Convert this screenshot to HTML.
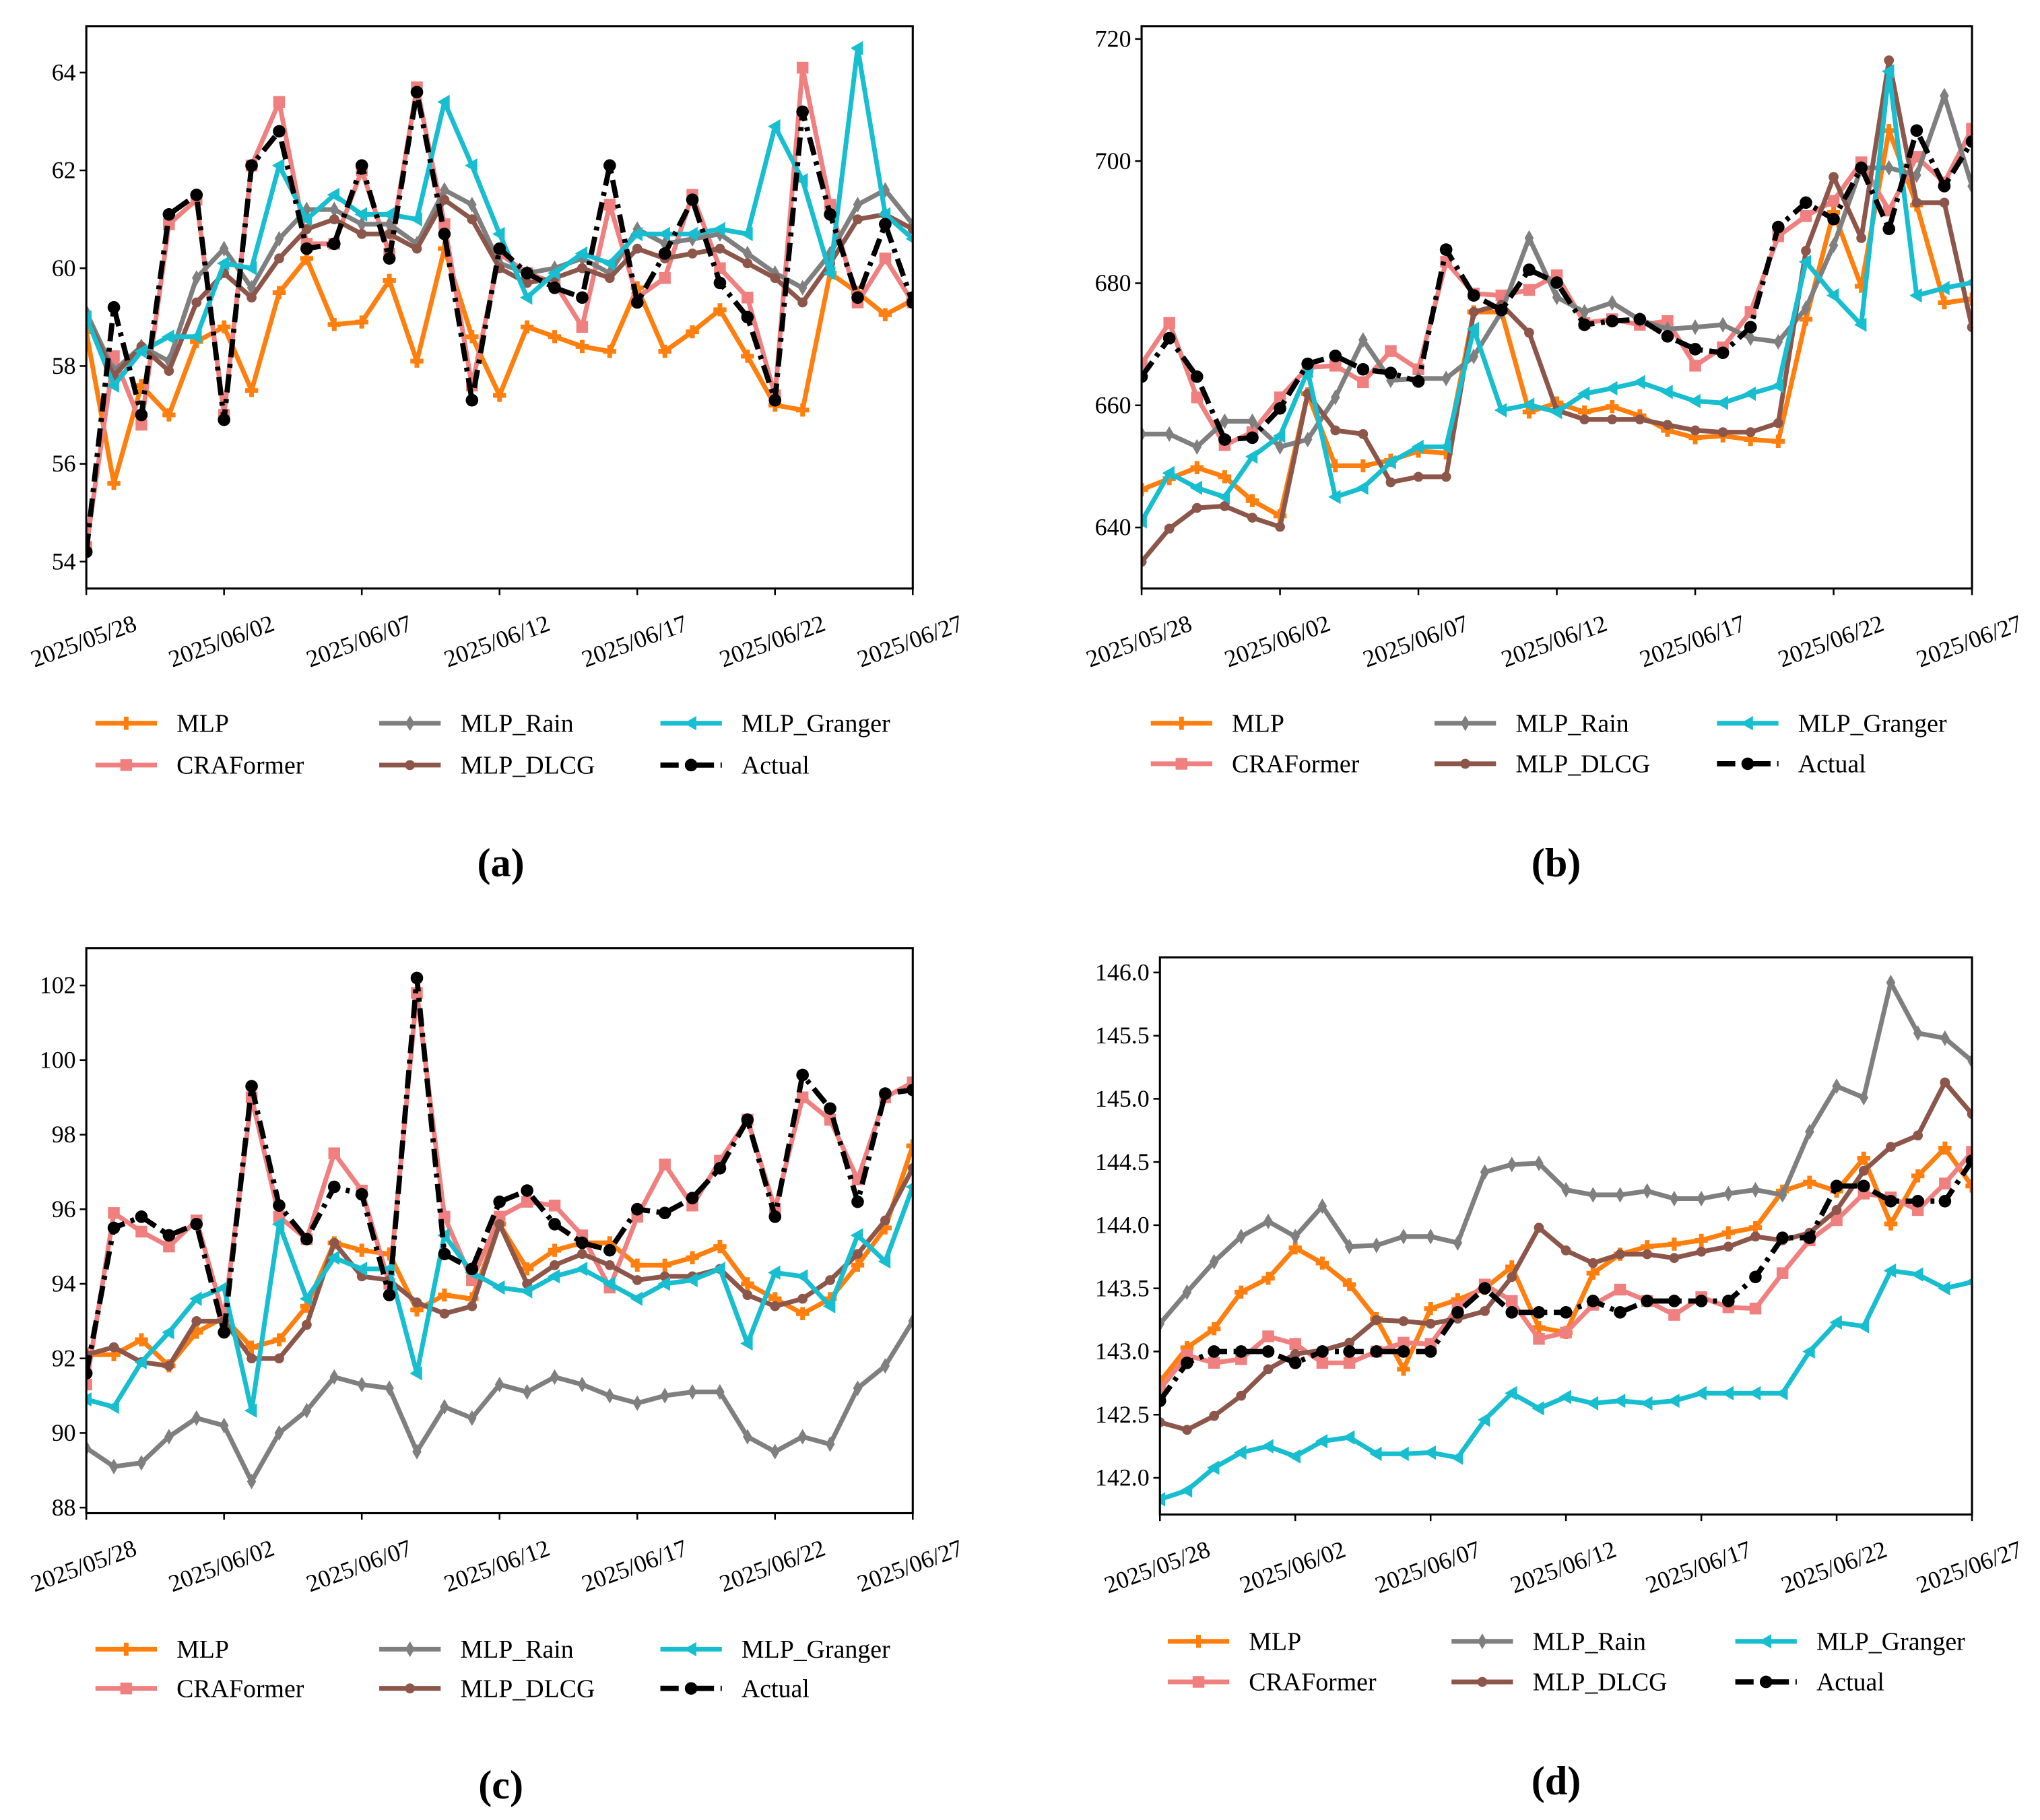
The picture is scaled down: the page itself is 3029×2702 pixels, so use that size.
<!DOCTYPE html>
<html><head><meta charset="utf-8"><style>
html,body{margin:0;padding:0;background:#fff}
svg{display:block}
text{font-family:"Liberation Serif","DejaVu Serif",serif;fill:#000}
</style></head><body>
<svg id="fig" width="3029" height="2702" viewBox="0 0 1560 1391.6" preserveAspectRatio="none" xmlns="http://www.w3.org/2000/svg"></svg>
<script>
const dateLabels = ["2025/05/28","2025/06/02","2025/06/07","2025/06/12","2025/06/17","2025/06/22","2025/06/27"];
const seriesNames = ["MLP","CRAFormer","MLP_Rain","MLP_DLCG","MLP_Granger","Actual"];

const aMLP = [58.7,55.6,57.6,57.0,58.5,58.8,57.5,59.5,60.2,58.85,58.9,59.75,58.1,60.4,58.6,57.4,58.8,58.6,58.4,58.3,59.6,58.3,58.7,59.15,58.2,57.2,57.1,59.9,59.5,59.05,59.35];
const aCRA = [54.3,58.2,56.8,60.9,61.4,57.0,62.1,63.4,60.5,60.5,62.0,60.3,63.7,60.9,57.6,60.3,59.9,59.7,58.8,61.3,59.4,59.8,61.5,60.0,59.4,57.4,64.1,61.3,59.3,60.2,59.3];
const aRain = [59.1,57.9,58.4,58.1,59.8,60.4,59.6,60.6,61.2,61.2,60.9,60.9,60.5,61.6,61.3,60.1,59.9,60.0,60.2,59.9,60.8,60.5,60.6,60.7,60.3,59.9,59.6,60.3,61.3,61.6,60.9];
const aDLCG = [59.0,57.8,58.4,57.9,59.3,59.9,59.4,60.2,60.8,61.0,60.7,60.7,60.4,61.4,61.0,60.0,59.7,59.8,60.0,59.8,60.4,60.2,60.3,60.4,60.1,59.8,59.3,60.1,61.0,61.1,60.8];
const aGranger = [59.0,57.6,58.3,58.6,58.6,60.1,60.0,62.1,61.0,61.5,61.1,61.1,61.0,63.4,62.1,60.7,59.4,59.9,60.3,60.1,60.7,60.7,60.7,60.8,60.7,62.9,61.8,59.9,64.5,61.1,60.6];
const aActual = [54.2,59.2,57.0,61.1,61.5,56.9,62.1,62.8,60.4,60.5,62.1,60.2,63.6,60.7,57.3,60.4,59.9,59.6,59.4,62.1,59.3,60.3,61.4,59.7,59.0,57.3,63.2,61.1,59.4,60.9,59.3];

const bMLP = [646.2,648,649.8,648.3,644.4,641.9,661.9,650.1,650.1,651,652.5,652.2,675.3,675.3,658.9,660.4,658.9,659.8,658.3,655.9,654.7,655,654.4,654.1,674.1,691.6,679.5,705,692.8,676.8,677.4];
const bCRA = [666.8,673.5,661.3,653.5,655.6,661.3,666.2,666.5,663.8,668.9,665.9,683.5,678.3,678,678.9,681.3,673.5,674.1,673.2,673.8,666.5,669.5,675.3,687.7,691,693.5,699.8,691.9,700.7,696.5,705.3];
const bRain = [655.3,655.3,653.2,657.4,657.4,653.2,654.4,661.3,670.7,664.1,664.4,664.4,668,675.3,687.4,677.7,675.3,676.8,674,672.5,672.8,673.2,671,670.4,675.9,686.2,698.9,698.9,697.7,710.7,695.9];
const bDLCG = [634.4,639.8,643.2,643.5,641.6,640.1,661.9,655.9,655.3,647.4,648.3,648.3,675.3,676.5,671.9,659.2,657.7,657.7,657.7,656.8,655.9,655.6,655.6,657.1,685.3,697.4,687.4,716.5,693.2,693.2,672.8];
const bGranger = [641,648.9,646.5,645,651.6,655,665.6,645,646.5,650.7,653.2,653.2,672.5,659.2,660.1,658.9,661.9,662.8,663.8,662.2,660.7,660.4,661.9,663.2,683.5,678,673.2,714.7,678,679.2,680.1];
const bActual = [664.7,671,664.7,654.4,654.7,659.5,666.8,668.1,665.9,665.3,663.9,685.5,678,675.6,682.2,680.1,673.2,673.8,674.1,671.3,669.2,668.6,672.8,689.2,693.2,690.5,698.9,688.9,705,695.9,703.2];

const cMLP = [92.1,92.1,92.5,91.8,92.7,93.1,92.3,92.5,93.4,95.1,94.9,94.8,93.3,93.7,93.6,95.6,94.4,94.9,95.1,95.1,94.5,94.5,94.7,95.0,94.0,93.6,93.2,93.6,94.5,95.5,97.7];
const cCRA = [91.3,95.9,95.4,95.0,95.7,93.1,99.0,95.8,95.2,97.5,96.5,94.0,101.8,95.8,94.1,95.8,96.2,96.1,95.3,93.9,95.8,97.2,96.1,97.3,98.4,96.0,99.0,98.4,96.8,99.0,99.4];
const cRain = [89.6,89.1,89.2,89.9,90.4,90.2,88.7,90.0,90.6,91.5,91.3,91.2,89.5,90.7,90.4,91.3,91.1,91.5,91.3,91.0,90.8,91.0,91.1,91.1,89.9,89.5,89.9,89.7,91.2,91.8,93.0];
const cDLCG = [92.1,92.3,91.9,91.8,93.0,93.0,92.0,92.0,92.9,95.1,94.2,94.1,93.5,93.2,93.4,95.6,94.0,94.5,94.8,94.5,94.1,94.2,94.2,94.4,93.7,93.4,93.6,94.1,94.8,95.7,97.1];
const cGranger = [90.9,90.7,91.9,92.7,93.6,93.9,90.6,95.6,93.6,94.7,94.4,94.4,91.6,95.3,94.3,93.9,93.8,94.2,94.4,94.0,93.6,94.0,94.1,94.4,92.4,94.3,94.2,93.4,95.3,94.6,96.6];
const cActual = [91.6,95.5,95.8,95.3,95.6,92.7,99.3,96.1,95.2,96.6,96.4,93.7,102.2,94.8,94.4,96.2,96.5,95.6,95.1,94.9,96.0,95.9,96.3,97.1,98.4,95.8,99.6,98.7,96.2,99.1,99.2];

const dMLP = [142.76,143.03,143.18,143.47,143.58,143.82,143.70,143.53,143.26,142.86,143.34,143.41,143.50,143.67,143.19,143.15,143.62,143.77,143.83,143.85,143.88,143.94,143.98,144.27,144.34,144.27,144.53,144.01,144.39,144.61,144.31];
const dCRA = [142.70,142.97,142.91,142.94,143.12,143.06,142.91,142.91,143.0,143.07,143.06,143.35,143.53,143.40,143.10,143.15,143.37,143.49,143.40,143.29,143.43,143.35,143.34,143.62,143.88,144.04,144.25,144.22,144.12,144.33,144.58];
const dRain = [143.22,143.47,143.71,143.91,144.03,143.91,144.15,143.83,143.84,143.91,143.91,143.86,144.42,144.48,144.49,144.28,144.24,144.24,144.27,144.21,144.21,144.25,144.28,144.24,144.74,145.10,145.01,145.92,145.52,145.48,145.30];
const dDLCG = [142.44,142.38,142.49,142.65,142.86,142.98,143.01,143.07,143.25,143.24,143.22,143.26,143.32,143.59,143.98,143.80,143.70,143.77,143.77,143.74,143.79,143.83,143.91,143.88,143.94,144.12,144.43,144.62,144.71,145.13,144.88];
const dGranger = [141.83,141.90,142.08,142.20,142.25,142.17,142.29,142.32,142.19,142.19,142.20,142.16,142.46,142.67,142.55,142.64,142.59,142.61,142.59,142.61,142.67,142.67,142.67,142.67,143.00,143.23,143.20,143.64,143.61,143.50,143.55];
const dActual = [142.61,142.91,143.0,143.0,143.0,142.91,143.0,143.0,143.0,143.0,143.0,143.31,143.50,143.31,143.31,143.31,143.40,143.31,143.40,143.40,143.40,143.40,143.59,143.90,143.90,144.31,144.31,144.19,144.19,144.19,144.51];

const aTicks = [54,56,58,60,62,64];
const bTicks = [640,660,680,700,720];
const cTicks = [88,90,92,94,96,98,100,102];
const dTicks = [142.0,142.5,143.0,143.5,144.0,144.5,145.0,145.5,146.0];

const NS = "http://www.w3.org/2000/svg";
const svg = document.getElementById('fig');
function el(tag, attrs, parent){ const e=document.createElementNS(NS,tag); for(const k in attrs) e.setAttribute(k,attrs[k]); (parent||svg).appendChild(e); return e; }

const styles = [
  {color:"#ff7f0e", marker:"plus"},
  {color:"#f08080", marker:"square"},
  {color:"#7f7f7f", marker:"thindiamond"},
  {color:"#8c564b", marker:"hex"},
  {color:"#17becf", marker:"ltri"},
  {color:"#000000", marker:"circle"}
];
function marker(g, type, x, y, color){
  let m;
  if(type==="plus"){ m=el('path',{d:`M${x-1.8} ${y-5}h3.6v3.2h3.2v3.6h-3.2v3.2h-3.6v-3.2h-3.2v-3.6h3.2z`,fill:color},g); }
  else if(type==="square"){ m=el('rect',{x:x-4.5,y:y-4.5,width:9,height:9,fill:color},g); }
  else if(type==="thindiamond"){ m=el('path',{d:`M${x} ${y-6}L${x+3.5} ${y}L${x} ${y+6}L${x-3.5} ${y}z`,fill:color},g); }
  else if(type==="hex"){ m=el('circle',{cx:x,cy:y,r:3.8,fill:color},g); }
  else if(type==="ltri"){ m=el('path',{d:`M${x-5.5} ${y}L${x+4} ${y-5.5}L${x+4} ${y+5.5}z`,fill:color},g); }
  else { m=el('circle',{cx:x,cy:y,r:4.8,fill:color},g); }
  
  
}

const panels = [
  {id:"a", x0:66,x1:698,y0:20,y1:450, vmin:53.45, vmax:64.95, ticks:aTicks, fmt:v=>String(v), data:[aMLP,aCRA,aRain,aDLCG,aGranger,aActual], legX:[73,290,505], legY:[553,585], label:[383,660]},
  {id:"b", x0:873,x1:1508,y0:20,y1:450, vmin:630.0, vmax:722.1, ticks:bTicks, fmt:v=>String(v), data:[bMLP,bCRA,bRain,bDLCG,bGranger,bActual], legX:[880,1097,1313], legY:[553,584], label:[1190,660]},
  {id:"c", x0:66,x1:698,y0:725,y1:1157, vmin:87.85, vmax:103.0, ticks:cTicks, fmt:v=>String(v), data:[cMLP,cCRA,cRain,cDLCG,cGranger,cActual], legX:[73,290,505], legY:[1261,1291], label:[383,1365]},
  {id:"d", x0:887,x1:1508,y0:732,y1:1158, vmin:141.71, vmax:146.12, ticks:dTicks, fmt:v=>v.toFixed(1), data:[dMLP,dCRA,dRain,dDLCG,dGranger,dActual], legX:[893,1110,1327], legY:[1255,1286], label:[1190,1362]}
];

panels.forEach(p=>{
  const g = el('g',{});
  
  
  const n = 31;
  const xs = i => p.x0 + (p.x1-p.x0)*i/(n-1);
  const ys = v => p.y1 - (v-p.vmin)/(p.vmax-p.vmin)*(p.y1-p.y0);
  const clipId = 'clip'+p.id;
  const cp = el('clipPath',{id:clipId},g);
  el('rect',{x:p.x0,y:p.y0,width:p.x1-p.x0,height:p.y1-p.y0},cp);
  p.data.forEach((arr,si)=>{
    const sg = el('g',{'clip-path':`url(#${clipId})`},g);
    
    
    const pts = arr.map((v,i)=>`${xs(i).toFixed(2)},${ys(v).toFixed(2)}`).join(' ');
    const attrs = {points:pts,fill:'none',stroke:styles[si].color,'stroke-width':si===5?4:3.6,'stroke-linejoin':'round'};
    if(si===5){ attrs['stroke-dasharray']='14 5 3 5'; }
    const pl = el('polyline',attrs,sg);
    
    
    arr.forEach((v,i)=>marker(sg, styles[si].marker, xs(i), ys(v), styles[si].color));
  });
  const fr = el('rect',{x:p.x0,y:p.y0,width:p.x1-p.x0,height:p.y1-p.y0,fill:'none',stroke:'#000','stroke-width':1.6},g);
  
  
  p.ticks.forEach(t=>{
    const y = ys(t);
    el('line',{x1:p.x0-5,x2:p.x0,y1:y,y2:y,stroke:'#000','stroke-width':1.3},g);
    const tx = el('text',{x:p.x0-8,y:y+6,'font-size':18.5,'text-anchor':'end'},g);
    tx.textContent = p.fmt(t);
    
    
  });
  dateLabels.forEach((lab,k)=>{
    const x = xs(k*5);
    el('line',{x1:x,x2:x,y1:p.y1,y2:p.y1+5,stroke:'#000','stroke-width':1.3},g);
    const tx = el('text',{x:0,y:0,'font-size':18.5,'text-anchor':'middle',transform:`translate(${x},${p.y1+46}) rotate(-20)`},g);
    tx.textContent = lab;
    
    
  });
  const order = [0,2,4,1,3,5];
  const lg = el('g',{},g);
  
  
  order.forEach((si,k)=>{
    const col = k%3, row = Math.floor(k/3);
    const lx = p.legX[col], ly = p.legY[row];
    const eg = el('g',{},lg);
    
    
    const la = {x1:lx,x2:lx+47,y1:ly,y2:ly,stroke:styles[si].color,'stroke-width':si===5?4:3.6};
    if(si===5) la['stroke-dasharray']='14 5 3 5';
    el('line',la,eg);
    marker(eg, styles[si].marker, lx+23.5, ly, styles[si].color);
    const tx = el('text',{x:lx+62,y:ly+6.5,'font-size':19.5},eg);
    tx.textContent = seriesNames[si];
  });
  const pl = el('text',{x:p.label[0],y:p.label[1]+10,'font-size':31,'font-weight':'bold','text-anchor':'middle'},g);
  pl.textContent = '('+p.id+')';
  
  
});
</script>
</body></html>
